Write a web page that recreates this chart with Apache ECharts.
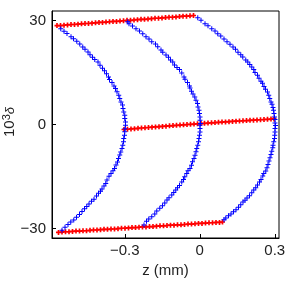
<!DOCTYPE html>
<html><head><meta charset="utf-8">
<script src="https://cdn.jsdelivr.net/npm/echarts@6/dist/echarts.min.js"></script>
<style>html,body{margin:0;padding:0;background:#fff}#c{width:288px;height:288px}</style>
</head><body><div id="c"></div>
<script>
// tick labels
const xTicks = [-0.3, 0, 0.3];
const yTicks = [-30, 0, 30];
const xLabel = 'z (mm)';

// blue curves [z (mm), 10^3 delta]
const blueLeft = [
[-0.556,27.6],[-0.543,26.9],[-0.531,26.2],[-0.515,25.3],[-0.505,24.7],[-0.492,24.0],[-0.480,23.2],[-0.468,22.3],[-0.459,21.7],[-0.447,20.9],
[-0.439,20.1],[-0.429,19.4],[-0.420,18.7],[-0.407,18.0],[-0.399,17.1],[-0.389,16.2],[-0.381,15.5],[-0.373,14.6],[-0.365,13.7],[-0.361,13.0],
[-0.351,12.1],[-0.343,11.1],[-0.337,10.4],[-0.331,9.4],[-0.324,8.4],[-0.320,7.5],[-0.315,6.5],[-0.309,5.6],[-0.307,4.6],[-0.304,3.6],
[-0.300,2.7],[-0.300,1.7],[-0.297,0.7],[-0.297,-0.2],[-0.299,-1.2],[-0.300,-2.1],[-0.301,-3.1],[-0.304,-4.0],[-0.305,-5.0],[-0.308,-6.0],
[-0.311,-6.9],[-0.316,-7.9],[-0.320,-8.8],[-0.325,-9.8],[-0.329,-10.8],[-0.335,-11.7],[-0.341,-12.7],[-0.347,-13.3],[-0.355,-14.1],[-0.363,-14.9],
[-0.371,-16.0],[-0.376,-17.0],[-0.383,-17.7],[-0.391,-18.6],[-0.397,-19.2],[-0.405,-19.8],[-0.413,-20.6],[-0.423,-21.5],[-0.433,-22.1],[-0.443,-22.9],
[-0.452,-23.6],[-0.461,-24.3],[-0.471,-25.1],[-0.481,-25.9],[-0.493,-26.7],[-0.504,-27.5],[-0.516,-28.1],[-0.527,-28.8],[-0.539,-29.6],[-0.551,-30.5]
];
const blueMid = [
[-0.288,29.6],[-0.283,29.05],[-0.269,28.36],[-0.255,27.61],[-0.241,26.92],[-0.228,26.17],[-0.215,25.31],[-0.203,24.62],[-0.192,23.87],[-0.177,23.18],
[-0.168,22.43],[-0.155,21.45],[-0.148,20.79],[-0.135,20.02],[-0.125,19.36],[-0.117,18.58],[-0.108,18.0],[-0.101,17.14],[-0.091,16.39],[-0.081,15.82],
[-0.072,14.84],[-0.063,13.69],[-0.059,13.03],[-0.049,12.08],[-0.041,11.1],[-0.039,10.53],[-0.033,9.58],[-0.027,8.8],[-0.020,7.94],[-0.015,6.99],
[-0.009,6.04],[-0.007,5.06],[-0.003,4.11],[-0.001,3.16],[0.001,2.19],[0.001,1.24],[0.003,0.29],[0.001,-0.2],[0.001,-1.15],[0.001,-2.13],
[-0.001,-3.08],[-0.003,-4.03],[-0.005,-5.0],[-0.008,-5.95],[-0.012,-6.9],[-0.015,-7.88],[-0.019,-8.83],[-0.023,-9.78],[-0.029,-10.76],[-0.033,-11.71],
[-0.039,-12.65],[-0.047,-13.34],[-0.052,-14.09],[-0.060,-15.07],[-0.065,-15.82],[-0.072,-16.59],[-0.081,-17.54],[-0.089,-18.23],[-0.096,-18.9],[-0.104,-19.56],
[-0.112,-20.33],[-0.123,-21.11],[-0.131,-21.77],[-0.140,-22.63],[-0.149,-23.41],[-0.160,-24.16],[-0.172,-24.93],[-0.180,-25.8],[-0.192,-26.57],[-0.204,-27.24],
[-0.213,-27.9],[-0.223,-28.96]
];
const blueRight = [
[-0.008,30.77],[0.005,30.0],[0.021,29.05],[0.033,28.47],[0.048,27.61],[0.061,26.92],[0.072,26.17],[0.084,25.48],[0.097,24.62],[0.109,23.87],
[0.121,23.09],[0.133,22.32],[0.143,21.66],[0.153,20.79],[0.164,20.13],[0.172,19.44],[0.184,18.58],[0.192,18.0],[0.200,17.26],[0.208,16.57],
[0.216,15.82],[0.221,14.96],[0.231,14.18],[0.237,13.32],[0.245,12.45],[0.251,11.88],[0.257,10.93],[0.263,10.15],[0.271,9.38],[0.276,8.43],
[0.280,7.48],[0.285,6.5],[0.289,5.84],[0.293,4.89],[0.295,4.11],[0.297,3.16],[0.299,2.19],[0.301,1.44],[0.301,0.46],[0.303,-0.29],
[0.301,-1.15],[0.301,-2.13],[0.300,-3.08],[0.299,-4.03],[0.296,-5.0],[0.293,-5.95],[0.292,-6.73],[0.288,-7.68],[0.285,-8.63],[0.281,-9.61],
[0.277,-10.55],[0.273,-11.5],[0.269,-12.48],[0.264,-13.43],[0.256,-14.09],[0.252,-14.87],[0.245,-15.82],[0.239,-16.59],[0.231,-17.46],[0.224,-18.23],
[0.216,-18.9],[0.208,-19.67],[0.199,-20.53],[0.189,-21.2],[0.181,-21.86],[0.173,-22.35],[0.164,-23.12],[0.155,-23.87],[0.145,-24.56],[0.135,-25.14],
[0.125,-25.8],[0.115,-26.29],[0.104,-26.95],[0.097,-27.44]
];

// red lines
const redTop = [
[-0.571,28.5],[-0.557,28.5],[-0.543,28.6],[-0.529,28.7],[-0.515,28.8],[-0.501,28.8],[-0.487,28.9],[-0.473,29.0],[-0.459,29.1],[-0.445,29.1],
[-0.431,29.2],[-0.417,29.3],[-0.403,29.4],[-0.389,29.4],[-0.375,29.5],[-0.361,29.6],[-0.347,29.7],[-0.333,29.7],[-0.319,29.8],[-0.305,29.9],
[-0.291,30.0],[-0.277,30.0],[-0.263,30.1],[-0.249,30.2],[-0.235,30.3],[-0.221,30.3],[-0.207,30.4],[-0.193,30.5],[-0.179,30.6],[-0.165,30.6],
[-0.151,30.7],[-0.137,30.8],[-0.123,30.9],[-0.109,30.9],[-0.095,31.0],[-0.081,31.1],[-0.067,31.2],[-0.053,31.2],[-0.039,31.3],[-0.025,31.4]
];
const redMid = [
[-0.303,-1.44],[-0.289,-1.36],[-0.275,-1.27],[-0.261,-1.19],[-0.247,-1.11],[-0.233,-1.02],[-0.219,-0.94],[-0.205,-0.86],[-0.191,-0.78],[-0.177,-0.70],
[-0.163,-0.62],[-0.149,-0.55],[-0.135,-0.47],[-0.121,-0.38],[-0.107,-0.31],[-0.093,-0.23],[-0.079,-0.16],[-0.065,-0.09],[-0.051,-0.01],[-0.037,0.06],
[-0.023,0.13],[-0.009,0.20],[0.005,0.27],[0.019,0.34],[0.033,0.41],[0.047,0.49],[0.061,0.55],[0.075,0.62],[0.089,0.69],[0.103,0.75],
[0.117,0.82],[0.131,0.88],[0.145,0.95],[0.159,1.01],[0.173,1.07],[0.187,1.13],[0.201,1.19],[0.215,1.25],[0.229,1.31],[0.243,1.38],
[0.257,1.44],[0.271,1.50],[0.285,1.55],[0.297,1.61]
];
const redBot = [
[-0.565,-31.1],[-0.551,-31.0],[-0.537,-30.9],[-0.523,-30.9],[-0.509,-30.8],[-0.495,-30.7],[-0.481,-30.7],[-0.467,-30.6],[-0.453,-30.6],[-0.439,-30.5],
[-0.425,-30.4],[-0.411,-30.4],[-0.397,-30.3],[-0.383,-30.2],[-0.369,-30.2],[-0.355,-30.1],[-0.341,-30.1],[-0.327,-30.0],[-0.313,-29.9],[-0.299,-29.9],
[-0.285,-29.8],[-0.271,-29.7],[-0.257,-29.7],[-0.243,-29.6],[-0.229,-29.5],[-0.215,-29.5],[-0.201,-29.4],[-0.187,-29.4],[-0.173,-29.3],[-0.159,-29.2],
[-0.145,-29.2],[-0.131,-29.1],[-0.117,-29.0],[-0.103,-29.0],[-0.089,-28.9],[-0.075,-28.9],[-0.061,-28.8],[-0.047,-28.7],[-0.033,-28.7],[-0.019,-28.6],
[-0.005,-28.5],[0.009,-28.5],[0.023,-28.4],[0.037,-28.3],[0.051,-28.3],[0.065,-28.2],[0.079,-28.2],[0.091,-28.1]
];

const BLUE = '#0000ff', RED = '#ff0000';
const plusThin = 'path://M2,0H3V2H5V3H3V5H2V3H0V2H2Z';
const plusBold = 'path://M0,2H2V0H4V2H6V4H4V6H2V4H0Z';
const font = 'Liberation Sans, Arial, sans-serif';
const txt = '#222';
const fmt = v => String(v).replace('-', '\u2212');

function sc(data, color, sym, size) {
  return { type: 'scatter', data: data, symbol: sym, symbolSize: size,
    itemStyle: { color: color, opacity: 1 }, silent: true, emphasis: { disabled: true } };
}

const chart = echarts.init(document.getElementById('c'), null, { renderer: 'canvas' });
chart.setOption({
  animation: false,
  backgroundColor: '#fff',
  grid: { left: 52, right: 9, top: 11, bottom: 50, outerBoundsMode: 'none', containLabel: false,
    show: true, borderColor: '#000', borderWidth: 1, backgroundColor: 'transparent' },
  graphic: [{
    type: 'text', x: 10, y: 122, rotation: Math.PI / 2, silent: true,
    style: {
      text: '{n|10}{s|3}{d|δ}', align: 'center', verticalAlign: 'middle', fill: txt,
      rich: {
        n: { fontSize: 15, fontFamily: font, fill: txt, lineHeight: 17 },
        s: { fontSize: 11, fontFamily: font, fill: txt, verticalAlign: 'top', lineHeight: 17 },
        d: { fontSize: 13, fontFamily: font, fill: txt, fontStyle: 'italic', lineHeight: 17 }
      }
    }
  }],
  xAxis: {
    type: 'value', min: -0.591, max: 0.317,
    splitLine: { show: false },
    axisLine: { onZero: false, lineStyle: { color: '#000', width: 1 } },
    axisTick: { inside: true, length: 4, customValues: xTicks, lineStyle: { color: '#000' } },
    axisLabel: { customValues: xTicks, formatter: fmt, color: txt, fontSize: 15, fontFamily: font, margin: 5 },
    name: xLabel, nameLocation: 'middle', nameGap: 22,
    nameTextStyle: { color: txt, fontSize: 15, fontFamily: font }
  },
  yAxis: {
    type: 'value', min: -32.7, max: 32.7,
    splitLine: { show: false },
    axisLine: { onZero: false, lineStyle: { color: '#000', width: 1 } },
    axisTick: { inside: true, length: 4, customValues: yTicks, lineStyle: { color: '#000' } },
    axisLabel: { customValues: yTicks, formatter: fmt, color: txt, fontSize: 15, fontFamily: font, margin: 6 }
  },
  series: [
    sc(redTop, RED, plusBold, 5), sc(redMid, RED, plusBold, 5), sc(redBot, RED, plusBold, 5),
    sc(blueLeft, BLUE, plusThin, 5), sc(blueMid, BLUE, plusThin, 5), sc(blueRight, BLUE, plusThin, 5)
  ]
});
</script></body></html>
